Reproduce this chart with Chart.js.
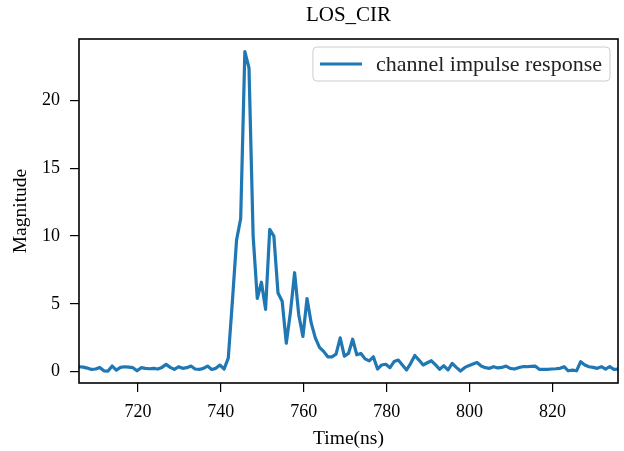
<!DOCTYPE html>
<html><head><meta charset="utf-8">
<script src="https://cdn.jsdelivr.net/npm/chart.js@4"></script>
<style>html,body{margin:0;padding:0;background:#fff;} canvas{display:block;}</style>
</head><body>
<canvas id="c" width="624" height="451"></canvas>
<script>
const titleText = 'LOS_CIR';
const xLabel = 'Time(ns)';
const yLabel = 'Magnitude';
const seriesLabel = 'channel impulse response';
const timeStart = 705.8;   // ns, first CIR sample
const timeStep = 1.0;      // ns between samples
const magnitude = [
  0.37,0.34,0.27,0.17,0.2,0.32,0.07,0.05,0.42,0.12,
  0.32,0.37,0.34,0.3,0.07,0.3,0.25,0.22,0.25,0.2,
  0.32,0.54,0.32,0.17,0.37,0.25,0.3,0.42,0.2,0.17,
  0.25,0.42,0.17,0.25,0.49,0.2,
  1.0,5.2,9.7,11.3,23.6,22.4,10.0,5.4,6.6,4.6,10.5,10.0,5.8,5.2,2.1,
  4.4,7.3,4.2,2.6,5.4,3.6,2.5,1.8,1.5,1.1,1.1,1.3,2.5,1.15,1.35,2.4,1.25,1.35,0.95,0.8,1.1,0.2,
  0.5,0.55,0.3,0.75,0.86,0.5,0.13,0.62,1.2,0.86,0.5,0.66,0.81,0.5,0.18,0.44,0.13,0.62,0.32,0.05,
  0.3,0.45,0.57,0.68,0.42,0.3,0.25,0.37,
  0.28,0.32,0.42,0.25,0.2,0.3,0.37,0.37,0.4,0.42,0.18,0.18,0.18,0.2,0.22,0.25,0.37,0.07,0.12,0.07,
  0.74,0.5,0.37,0.32,0.25,0.37,0.2,0.37,0.18,0.2
];
const xTicks = [720, 740, 760, 780, 800, 820];
const yTicks = [0, 5, 10, 15, 20];
const xRange = [705.8, 835.8];
const yRange = [-0.83, 24.53];

const FONT = "'Liberation Serif', 'DejaVu Serif', serif";
const lineColor = '#1f77b4';

const points = magnitude.map((v, i) => ({ x: timeStart + i * timeStep, y: v }));

const framePlugin = {
  id: 'frameLegend',
  afterDatasetsDraw(chart) {
    const { ctx, chartArea: a } = chart;
    ctx.save();
    ctx.strokeStyle = '#000';
    ctx.lineWidth = 1.6;
    ctx.strokeRect(a.left, a.top, a.right - a.left, a.bottom - a.top);

    // legend (upper right, inside axes)
    ctx.font = "22px " + FONT;
    const tw = ctx.measureText(seriesLabel).width;
    const bw = 63 + tw + 8;
    const bh = 34;
    const bx = a.right - 8 - bw;
    const by = a.top + 8;
    const r = 4;
    ctx.beginPath();
    ctx.moveTo(bx + r, by);
    ctx.lineTo(bx + bw - r, by);
    ctx.quadraticCurveTo(bx + bw, by, bx + bw, by + r);
    ctx.lineTo(bx + bw, by + bh - r);
    ctx.quadraticCurveTo(bx + bw, by + bh, bx + bw - r, by + bh);
    ctx.lineTo(bx + r, by + bh);
    ctx.quadraticCurveTo(bx, by + bh, bx, by + bh - r);
    ctx.lineTo(bx, by + r);
    ctx.quadraticCurveTo(bx, by, bx + r, by);
    ctx.closePath();
    ctx.fillStyle = 'rgba(255,255,255,0.8)';
    ctx.fill();
    ctx.strokeStyle = '#cccccc';
    ctx.lineWidth = 1;
    ctx.stroke();
    const cy = by + bh / 2;
    ctx.strokeStyle = lineColor;
    ctx.lineWidth = 3.2;
    ctx.beginPath();
    ctx.moveTo(bx + 7, cy);
    ctx.lineTo(bx + 49, cy);
    ctx.stroke();
    ctx.fillStyle = '#222';
    ctx.textBaseline = 'middle';
    ctx.textAlign = 'left';
    ctx.fillText(seriesLabel, bx + 63, cy + 1);
    ctx.restore();
  }
};

new Chart(document.getElementById('c'), {
  type: 'line',
  data: {
    datasets: [{
      label: seriesLabel,
      data: points,
      borderColor: lineColor,
      borderWidth: 3.2,
      borderJoinStyle: 'round',
      borderCapStyle: 'round',
      pointRadius: 0,
      tension: 0,
      fill: false
    }]
  },
  options: {
    responsive: false,
    devicePixelRatio: 1,
    animation: false,
    layout: { padding: { left: 0, right: 6, top: 0, bottom: 0 } },
    plugins: {
      legend: { display: false },
      tooltip: { enabled: false },
      title: {
        display: true,
        text: titleText,
        fullSize: false,
        color: '#000',
        font: { family: FONT, size: 21, weight: 'normal', lineHeight: 1.2 },
        padding: { top: 3, bottom: 10.8 }
      }
    },
    scales: {
      x: {
        type: 'linear',
        min: xRange[0],
        max: xRange[1],
        afterBuildTicks: s => { s.ticks = xTicks.map(v => ({ value: v })); },
        afterFit: s => { s.height = 68; },
        border: { display: false },
        grid: { drawOnChartArea: false, drawTicks: true, tickLength: 9, color: '#000', lineWidth: 1.2 },
        ticks: { color: '#000', padding: 9, maxRotation: 0, font: { family: FONT, size: 18 } },
        title: { display: true, text: xLabel, color: '#000', padding: { top: 0, bottom: 0 }, font: { family: FONT, size: 19.5 } }
      },
      y: {
        type: 'linear',
        min: yRange[0],
        max: yRange[1],
        afterBuildTicks: s => { s.ticks = yTicks.map(v => ({ value: v })); },
        afterFit: s => { s.width = 79; },
        border: { display: false },
        grid: { drawOnChartArea: false, drawTicks: true, tickLength: 9, color: '#000', lineWidth: 1.2 },
        ticks: { color: '#000', padding: 10, font: { family: FONT, size: 18 } },
        title: { display: true, text: yLabel, color: '#000', padding: { top: 9, bottom: 0 }, font: { family: FONT, size: 19.5 } }
      }
    }
  },
  plugins: [framePlugin]
});
</script>
</body></html>
